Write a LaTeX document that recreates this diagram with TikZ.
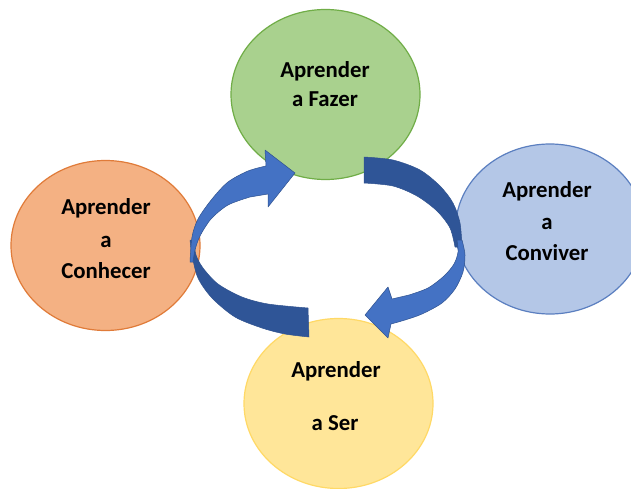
\documentclass[tikz,border=0pt]{standalone}
\usepackage{fontspec}
\setmainfont{Carlito}
\usetikzlibrary{shapes.geometric}
\definecolor{gfill}{HTML}{A9D18E}
\definecolor{gline}{HTML}{70AD47}
\definecolor{ofill}{HTML}{F4B183}
\definecolor{oline}{HTML}{E07B39}
\definecolor{bfill}{HTML}{B4C7E7}
\definecolor{bline}{HTML}{5B7FC0}
\definecolor{yfill}{HTML}{FFE699}
\definecolor{yline}{HTML}{FFD966}
\definecolor{alight}{HTML}{4472C4}
\definecolor{adark}{HTML}{2F5597}
\definecolor{aedge}{HTML}{2F528F}
\begin{document}
\begin{tikzpicture}[x=1pt,y=-1pt,
  bubble/.style={ellipse,minimum width=189pt,minimum height=170pt,inner sep=0pt,line width=1.2pt},
  lbl/.style={font=\fontsize{22.8}{26}\selectfont\bfseries,text=black,inner sep=0pt,anchor=base},
  darkband/.style={fill=adark,draw=aedge,line width=0.5pt,line join=round},
  lightband/.style={fill=alight,draw=aedge,line width=0.5pt,line join=round}]
\useasboundingbox (0,0) rectangle (631,489);
\fill[white] (0,0) rectangle (631,489);
\begin{scope}
\clip (0,0) rectangle (631,489);
\node[bubble,fill=gfill,draw=gline] (fazer) at (325.5,94.5) {};
\node[bubble,fill=ofill,draw=oline] (conhecer) at (105.5,245.5) {};
\node[bubble,fill=bfill,draw=bline] (conviver) at (550,229) {};
\node[bubble,fill=yfill,draw=yline] (ser) at (338.5,403.5) {};
\end{scope}
% left arrow (Ser -> Fazer)
\path[darkband] plot[smooth,tension=0.5] coordinates {(190,240) (192,255) (198,278) (212,298) (235,317) (262,328) (285,334) (309,337)}
  -- plot[smooth,tension=0.5] coordinates {(308,308) (268,304) (242,297) (218,284) (203,268) (196,255) (194,242)} -- cycle;
\path[lightband] plot[smooth,tension=0.5] coordinates {(190,262) (192,237) (198,219) (212,199) (228,182) (248,171) (266,166)}
  -- (265,150) -- (295,173) -- (268,207) -- (268,194)
  -- plot[smooth,tension=0.5] coordinates {(250,197) (228,205) (211,219) (200,236) (195,250) (193,262)} -- cycle;
% right arrow (Fazer -> Ser)
\path[darkband] plot[smooth,tension=0.5] coordinates {(364,157) (393,160) (420,170) (440,186) (453,203) (460,223) (462,247)}
  -- plot[smooth,tension=0.5] coordinates {(455,247) (450,228) (437,211) (417,196) (393,186) (364,183)} -- cycle;
\path[lightband] plot[smooth,tension=0.5] coordinates {(462,240) (465,255) (463,272) (455,289) (442,303) (422,314) (405,320) (391,324)}
  -- (388,338) -- (365,315) -- (388,287) -- (392,299)
  -- plot[smooth,tension=0.5] coordinates {(409,295) (428,288) (444,276) (454,264) (458,252) (457,240)} -- cycle;
% labels
\node[lbl] (f1) at (325,78) {Aprender};
\node[lbl] (f2) at (325,107) {a Fazer};
\node[lbl] (c1) at (106,214) {Aprender};
\node[lbl] (c2) at (106,247) {a};
\node[lbl] (c3) at (106,278) {Conhecer};
\node[lbl] (v1) at (547,197) {Aprender};
\node[lbl] (v2) at (547,229) {a};
\node[lbl] (v3) at (547,260) {Conviver};
\node[lbl] (s1) at (336,377) {Aprender};
\node[lbl] (s2) at (335,430) {a Ser};
\end{tikzpicture}
\end{document}
